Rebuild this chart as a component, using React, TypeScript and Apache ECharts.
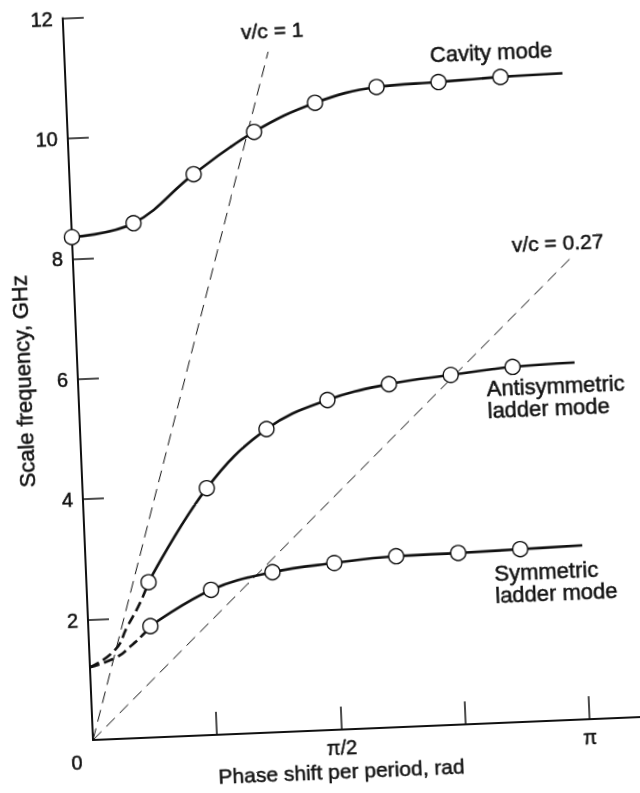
import React, { useEffect, useRef } from "react";
import * as echarts from "echarts";

// Phase shift is expressed in units of π rad
const phase = [0, 0.125, 0.25, 0.375, 0.5, 0.625, 0.75, 0.875, 1.0];
const cavityGHz = [8.36, 8.55, 9.32, 9.98, 10.42, 10.64, 10.68, 10.72, 10.74];

const ladderPhase = [0.125, 0.25, 0.375, 0.5, 0.625, 0.75, 0.875, 1.0];
const antiGHz = [2.58, 4.1, 5.04, 5.48, 5.7, 5.81, 5.9, 5.93];
const symGHz = [1.85, 2.41, 2.66, 2.77, 2.84, 2.85, 2.87, 2.89];

// dashed (extrapolated) low-phase parts of the ladder modes
const antiDashPhase = [0, 0.052, 0.078, 0.106, 0.125];
const antiDashGHz = [1.21, 1.48, 1.85, 2.24, 2.58];
const symDashPhase = [0, 0.055, 0.082, 0.109, 0.125];
const symDashGHz = [1.21, 1.36, 1.52, 1.71, 1.85];

// light lines v/c = 1 and v/c = 0.27
const lightPhase1 = [0, 0.41];
const lightGHz1 = [0, 11.3];
const lightPhase027 = [0, 1.0];
const lightGHz027 = [0, 7.66];

const yTicks = [2, 4, 6, 8, 10, 12];
const xTicks = [0.25, 0.5, 0.75, 1.0];
const xLabelValues = [0, 0.5, 1.0];
const xLabelTexts = ["0", "π/2", "π"];

const FONT = '"Liberation Sans", Arial, Helvetica, sans-serif';
const INK = "#111";
const HEAVY = { textBorderColor: INK, textBorderWidth: 0.5 };

const zip = (xs: number[], ys: number[]) => xs.map((x, i) => [x, ys[i]]);

const withMarkers = (xs: number[], ys: number[]) =>
  xs.map((x, i) =>
    i === xs.length - 1 ? { value: [x, ys[i]], symbol: "none" } : { value: [x, ys[i]] }
  );

export default function App() {
  const ref = useRef<HTMLDivElement>(null);

  useEffect(() => {
    if (!ref.current) return;
    const chart = echarts.init(ref.current, undefined, { renderer: "svg" });

    const solid = (name: string, xs: number[], ys: number[]) => ({
      name,
      type: "line",
      data: withMarkers(xs, ys),
      smooth: 0.4,
      symbol: "circle",
      symbolSize: 15,
      showSymbol: true,
      itemStyle: { color: "#fff", borderColor: INK, borderWidth: 1.4 },
      lineStyle: { color: INK, width: 2.6 },
      z: 5,
      silent: true,
    });
    const dashedCurve = (name: string, xs: number[], ys: number[]) => ({
      name,
      type: "line",
      data: zip(xs, ys),
      smooth: 0.5,
      symbol: "none",
      lineStyle: { color: INK, width: 2.6, type: [10, 5] },
      z: 4,
      silent: true,
    });
    const lightLine = (name: string, xs: number[], ys: number[]) => ({
      name,
      type: "line",
      data: zip(xs, ys),
      symbol: "none",
      lineStyle: { color: INK, width: 1, type: [12, 7] },
      z: 2,
      silent: true,
    });

    const gridWidth = 556.6; // 1.12 π

    const txt = (text: string, x: number, y: number, size: number, align: string) => ({
      type: "text",
      x,
      y,
      style: { text, fontSize: size, fontFamily: FONT, fill: INK, align, verticalAlign: "middle", stroke: INK, lineWidth: 0.5 },
    });

    chart.setOption({
      animation: false,
      backgroundColor: "transparent",
      textStyle: { fontFamily: FONT, color: INK },
      grid: { left: 93, top: 17.6, width: gridWidth, height: 722.4, containLabel: false },
      xAxis: {
        type: "value",
        min: 0,
        max: 1.12,
        interval: 0.25,
        axisLine: { show: true, onZero: false, lineStyle: { color: INK, width: 2 } },
        axisTick: {
          show: true,
          inside: true,
          length: 23,
          customValues: xTicks,
          lineStyle: { color: INK, width: 1.5 },
        },
        axisLabel: {
          show: true,
          margin: 8,
          fontSize: 20,
          color: INK,
          fontFamily: FONT,
          ...HEAVY,
          customValues: xLabelValues,
          formatter: (v: number) => {
            const i = xLabelValues.findIndex((x) => Math.abs(x - v) < 1e-6);
            if (i < 0) return "";
            return i === 0 ? "{z|" + xLabelTexts[0] + "}" : xLabelTexts[i];
          },
          rich: {
            z: { fontSize: 20, fontFamily: FONT, color: INK, padding: [4, 34, 0, 0], ...HEAVY },
          },
        },
        splitLine: { show: false },
      },
      yAxis: {
        type: "value",
        min: 0,
        max: 12,
        interval: 2,
        name: "Scale frequency, GHz",
        nameLocation: "middle",
        nameGap: 40,
        nameTextStyle: { fontSize: 22, color: INK, fontFamily: FONT, ...HEAVY },
        axisLine: { show: true, onZero: false, lineStyle: { color: INK, width: 2 } },
        axisTick: {
          show: true,
          inside: true,
          length: 21,
          customValues: yTicks,
          lineStyle: { color: INK, width: 1.5 },
        },
        axisLabel: {
          show: true,
          margin: 10,
          fontSize: 20,
          color: INK,
          fontFamily: FONT,
          ...HEAVY,
          customValues: yTicks,
        },
        splitLine: { show: false },
      },
      series: [
        lightLine("v/c = 1", lightPhase1, lightGHz1),
        lightLine("v/c = 0.27", lightPhase027, lightGHz027),
        dashedCurve("Antisymmetric (extrapolated)", antiDashPhase, antiDashGHz),
        dashedCurve("Symmetric (extrapolated)", symDashPhase, symDashGHz),
        solid("Cavity mode", phase, cavityGHz),
        solid("Antisymmetric ladder mode", ladderPhase, antiGHz),
        solid("Symmetric ladder mode", ladderPhase, symGHz),
      ],
      graphic: [
        txt("Phase shift per period, rad", 340, 781.5, 21, "center"),
        txt("v/c = 1", 301.7, 38, 21, "center"),
        txt("v/c = 0.27", 578, 262, 21, "center"),
        txt("Cavity mode", 519.5, 69, 22, "center"),
        txt("Antisymmetric", 501, 405, 22, "left"),
        txt("ladder mode", 501, 427, 22, "left"),
        txt("Symmetric", 501, 590, 22, "left"),
        txt("ladder mode", 501, 612, 22, "left"),
      ],
    });

    return () => chart.dispose();
  }, []);

  return (
    <div
      ref={ref}
      style={{
        position: "fixed",
        left: 0,
        top: 0,
        width: 720,
        height: 840,
        transform: "rotate(-2.4deg)",
        transformOrigin: "93px 740px",
      }}
    />
  );
}
